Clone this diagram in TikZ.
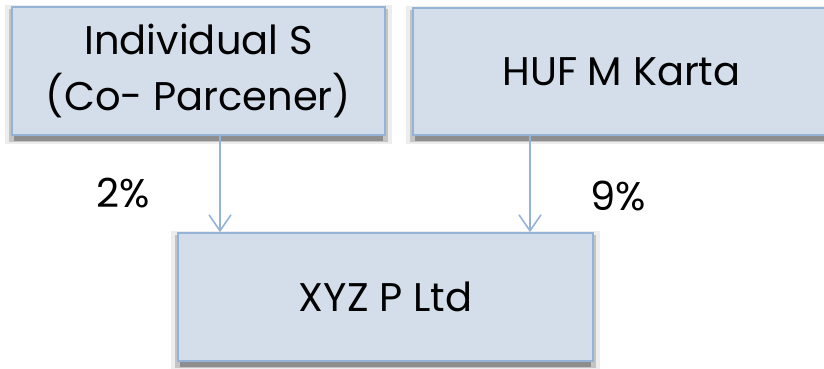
\documentclass[tikz,border=0pt]{standalone}
\usepackage{fontspec}
\setmainfont{Poppins}
\usetikzlibrary{arrows.meta}
\definecolor{boxfill}{HTML}{D3DEEA}
\definecolor{boxline}{HTML}{94B3D6}
\definecolor{shadowdark}{HTML}{8E8E8E}
\definecolor{shadowmid}{HTML}{C4C4C4}
\definecolor{shadowlight}{HTML}{EDEDED}
\tikzset{
  entity/.style={rectangle, draw=boxline, line width=1.6pt, fill=boxfill,
    inner sep=0pt, align=center, text=black,
    font=\fontsize{40}{56}\selectfont},
  share/.style={text=black, font=\fontsize{40}{44}\selectfont},
  link/.style={draw=boxline, line width=1.6pt,
    -{Straight Barb[length=16pt,width=22pt,line width=1.6pt]}},
}
% soft drop shadow behind a box given by its corners
\newcommand{\dropshade}[4]{%
  \fill[shadowlight] (#1-7,#2-2) rectangle (#3+7,#4+9);
  \fill[shadowmid]   (#1-3,#2+2) rectangle (#3+3,#4+7);
  \fill[shadowdark]  (#1+2,#2+4) rectangle (#3-2,#4+6);
}
\begin{document}
\begin{tikzpicture}[x=1pt,y=-1pt]
  \useasboundingbox (0,0) rectangle (824,369);
  \begin{scope}
    \clip (0,0) rectangle (824,369);
    \dropshade{12}{7}{385}{135}
    \dropshade{413}{8}{830}{135}
    \dropshade{178}{233}{593}{361}

    \node[entity, minimum width=373pt, minimum height=128pt] (ind) at (198.5,71)
      {Individual S\\(Co- Parcener)};
    \node[entity, minimum width=417pt, minimum height=127pt] (huf) at (621.5,71.5)
      {HUF M Karta};
    \node[entity, minimum width=415pt, minimum height=128pt] (xyz) at (385.5,297)
      {XYZ P Ltd};
  \end{scope}

  \coordinate (lx) at (220,0);
  \coordinate (rx) at (530,0);
  \draw[link] (lx |- ind.south) -- (lx |- xyz.north);
  \draw[link] (rx |- huf.south) -- (rx |- xyz.north);

  \node[share] (p2) at (123,193) {2\%};
  \node[share] (p9) at (618,196) {9\%};
\end{tikzpicture}
\end{document}
